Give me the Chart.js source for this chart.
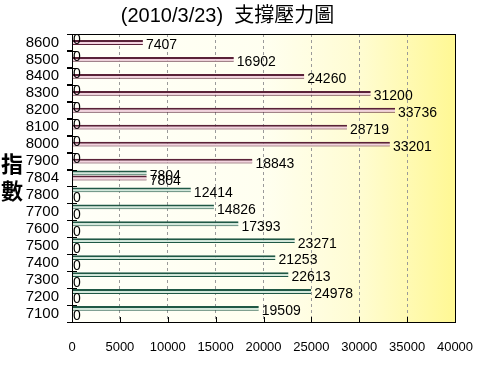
<!DOCTYPE html>
<html>
<head>
<meta charset="utf-8">
<script src="https://cdn.jsdelivr.net/npm/chart.js@4/dist/chart.umd.min.js"></script>
<style>
  html, body { margin: 0; padding: 0; background: #fff; }
  #wrap { width: 498px; height: 367px; }
</style>
</head>
<body>
<div id="wrap"><canvas id="chart" width="498" height="367"></canvas></div>
<script>
const titleText = '(2010/3/23)  支撐壓力圖';
const categories = ['8600', '8500', '8400', '8300', '8200', '8100', '8000', '7900', '7804',
    '7800', '7700', '7600', '7500', '7400', '7300', '7200', '7100'];
// 支撐 (green) and 壓力 (red)
const supportValues = [0, 0, 0, 0, 0, 0, 0, 0, 7804, 12414, 14826, 17393, 23271, 21253, 22613, 24978, 19509];
const pressureValues = [7407, 16902, 24260, 31200, 33736, 28719, 33201, 18843, 7804, 0, 0, 0, 0, 0, 0, 0, 0];
const xMin = 0;
const xMax = 40000;
const xStep = 5000;

const FONT = '"Liberation Sans", "Noto Sans CJK TC", sans-serif';

const frame = {
    id: 'frame',
    beforeDraw(chart) {
        const { ctx, chartArea: a } = chart;
        const g = ctx.createLinearGradient(a.left, 0, a.right, 0);
        g.addColorStop(0, '#fffff8');
        g.addColorStop(0.5, '#fffff0');
        g.addColorStop(0.75, '#fffcd2');
        g.addColorStop(1, '#fff894');
        ctx.save();
        ctx.fillStyle = g;
        ctx.fillRect(a.left, a.top, a.right - a.left, a.bottom - a.top);
        ctx.restore();
    },
    afterDraw(chart) {
        const { ctx, chartArea: a, scales } = chart;
        ctx.save();
        ctx.strokeStyle = '#000';
        ctx.lineWidth = 1;
        ctx.strokeRect(Math.round(a.left) + 0.5, Math.round(a.top) + 0.5,
            Math.round(a.right - a.left), Math.round(a.bottom - a.top));
        ctx.beginPath();
        // small inner ticks on the x axis
        for (let v = xMin; v <= xMax; v += xStep) {
            const x = Math.round(scales.x.getPixelForValue(v)) + 0.5;
            ctx.moveTo(x, a.bottom);
            ctx.lineTo(x, a.bottom - 5);
        }
        // category ticks crossing the y axis
        for (let i = 0; i <= categories.length; i++) {
            const y = Math.round(scales.y.getPixelForValue(i - 0.5)) + 0.5;
            ctx.moveTo(a.left - 5, y);
            ctx.lineTo(a.left + 5, y);
        }
        ctx.stroke();
        // y title, stacked characters
        ctx.fillStyle = '#000';
        ctx.font = 'bold 22px "Noto Sans CJK TC", sans-serif';
        ctx.textAlign = 'center';
        ctx.textBaseline = 'middle';
        ctx.fillText('指', 12, 164);
        ctx.fillText('數', 12, 191);
        ctx.restore();
    }
};

const valueLabels = {
    id: 'valueLabels',
    afterDatasetsDraw(chart) {
        const { ctx } = chart;
        ctx.save();
        ctx.font = '14px ' + FONT;
        ctx.fillStyle = '#000';
        ctx.textAlign = 'left';
        ctx.textBaseline = 'middle';
        [0, 1].forEach(di => {
            const meta = chart.getDatasetMeta(di);
            const data = chart.data.datasets[di].data;
            meta.data.forEach((bar, i) => {
                const v = data[i];
                const x = v ? bar.x + 3 : bar.base + 1;
                ctx.fillText(String(v), x, bar.y + 3);
            });
        });
        ctx.restore();
    }
};

new Chart(document.getElementById('chart'), {
    type: 'bar',
    data: {
        labels: categories,
        datasets: [{
            label: '支撐',
            data: supportValues,
            backgroundColor: '#d3e8dc',
            borderColor: '#1f5845',
            borderWidth: { top: 2, bottom: 1, left: 0, right: 0 },
            borderSkipped: false,
        }, {
            label: '壓力',
            data: pressureValues,
            backgroundColor: '#f3d3df',
            borderColor: '#5a2238',
            borderWidth: { top: 2, bottom: 1, left: 0, right: 0 },
            borderSkipped: false,
        }, {
            // empty slot so the pair sits in the upper part of each band
            label: '',
            data: categories.map(() => null),
        }],
    },
    options: {
        indexAxis: 'y',
        responsive: false,
        animation: false,
        datasets: { bar: { categoryPercentage: 0.9, barPercentage: 0.95 } },
        layout: { padding: { left: 0, right: 43, top: 0, bottom: 0 } },
        plugins: {
            legend: { display: false },
            tooltip: { enabled: false },
            title: {
                display: true,
                text: titleText,
                color: '#000',
                font: { family: FONT, size: 20, weight: 'normal' },
                padding: { top: 4, bottom: 6 },
            },
        },
        scales: {
            x: {
                min: xMin,
                max: xMax,
                afterFit(scale) { scale.height = 45; },
                ticks: {
                    stepSize: xStep,
                    color: '#000',
                    font: { family: FONT, size: 13 },
                    padding: 18,
                    maxRotation: 0,
                    callback: v => String(v),
                },
                grid: { color: '#9a9a9a', tickLength: 0, drawTicks: false },
                border: { display: false, dash: [3, 3] },
            },
            y: {
                afterFit(scale) { scale.width = 72; },
                ticks: {
                    color: '#000',
                    font: { family: FONT, size: 15 },
                    padding: 8,
                    autoSkip: false,
                },
                grid: { drawOnChartArea: false, color: '#000', tickLength: 5, offset: true },
                border: { display: false },
            },
        },
    },
    plugins: [frame, valueLabels],
});
</script>
</body>
</html>
